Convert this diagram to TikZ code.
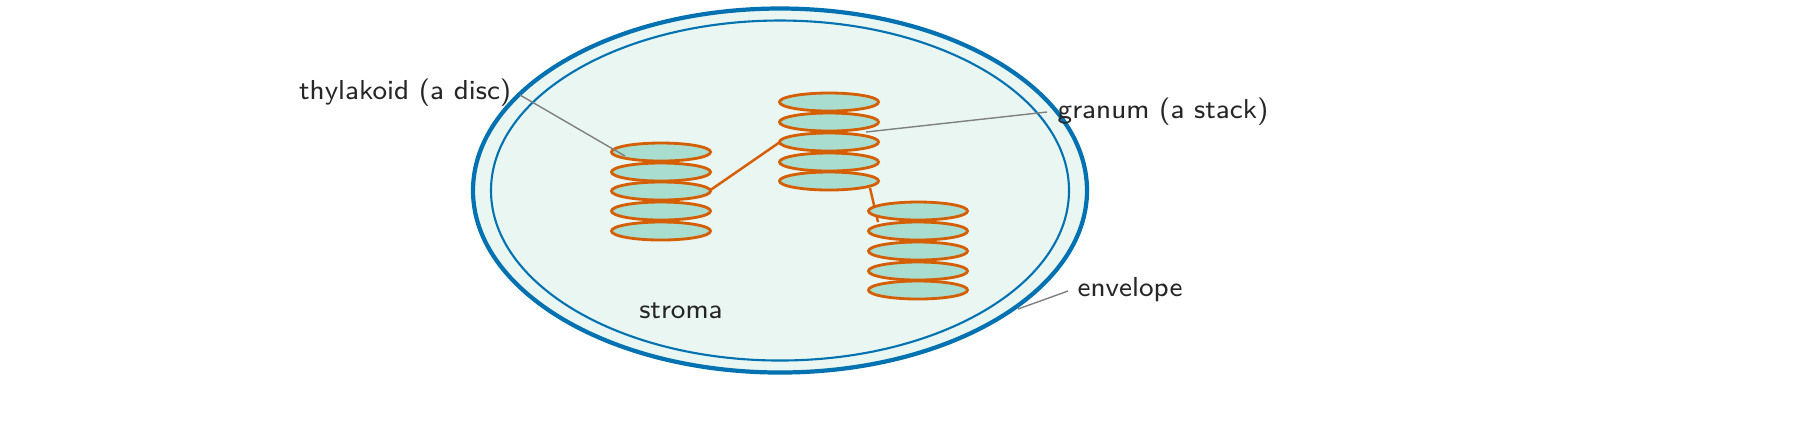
\documentclass[tikz,border=0pt]{standalone}
\usetikzlibrary{shapes.geometric}
\definecolor{blueE}{HTML}{0072B2}
\definecolor{stromaF}{HTML}{EAF6F2}
\definecolor{discF}{HTML}{A8DDD0}
\definecolor{orangeD}{HTML}{D55E00}
\begin{document}
\begin{tikzpicture}[x=0.01cm,y=-0.01cm,
  lbl/.style={font=\sffamily\fontsize{7.8}{9}\selectfont,text=black!85,inner sep=0pt},
  disc/.style={draw=orangeD,fill=discF,line width=0.8pt,ellipse,inner sep=0pt,minimum width=0.99cm,minimum height=0.18cm},
  lead/.style={draw=gray,line width=0.4pt},
  link/.style={draw=orangeD,line width=0.7pt}]
\draw[blueE,line width=1.2pt,fill=stromaF] (780,190.5) ellipse [x radius=307,y radius=182];
\draw[blueE,line width=0.6pt] (780,190.5) ellipse [x radius=289,y radius=170];
\draw[link] (709,191) -- (780,142);
\draw[link] (870,188) -- (878,222);
\foreach \y [count=\i] in {152,172,191,211,231} {\node[disc] (a\i) at (661,\y) {};}
\foreach \y [count=\i] in {102,122,142,162,181} {\node[disc] (b\i) at (829,\y) {};}
\foreach \y [count=\i] in {211,231,251,271,290} {\node[disc] (c\i) at (918,\y) {};}
\node[lbl,anchor=east] (thy) at (512,93) {thylakoid (a disc)};
\node[lbl,anchor=west] (gra) at (1057,112) {granum (a stack)};
\node[lbl,anchor=west] (env) at (1077,290) {envelope};
\node[lbl] (str) at (681,311) {stroma};
\coordinate (t1) at (625,156);
\coordinate (g1) at (866,132);
\coordinate (e1) at (1018,309);
\draw[lead] (thy.east) ++(8,2) -- (t1);
\draw[lead] (gra.west) ++(-10,0) -- (g1);
\draw[lead] (env.west) ++(-9,1) -- (e1);
\pgfresetboundingbox
\useasboundingbox (0,0) rectangle (1800,441);
\end{tikzpicture}
\end{document}
